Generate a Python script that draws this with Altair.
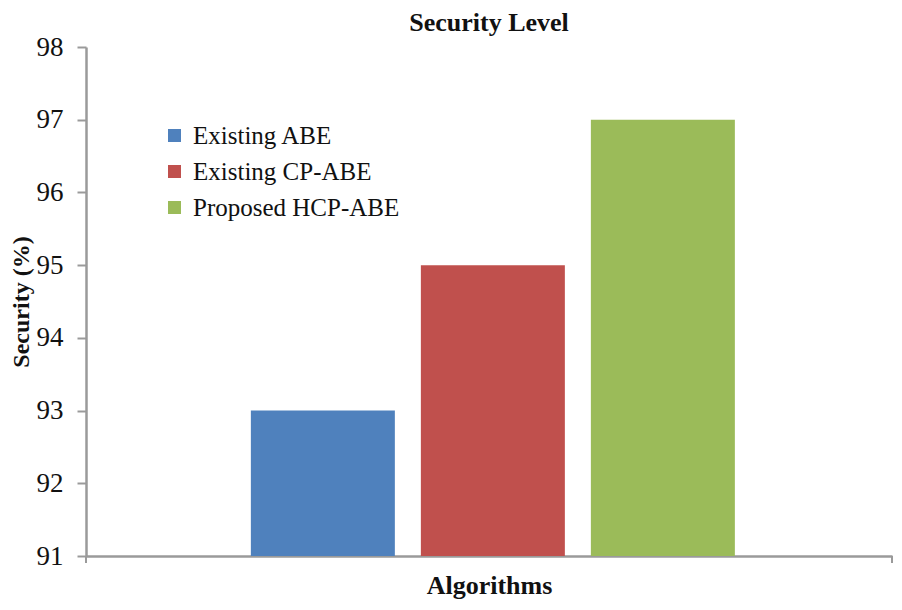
import altair as alt
import pandas as pd

algorithms = ["Existing ABE", "Existing CP-ABE", "Proposed HCP-ABE"]
security = [93, 95, 97]
colors = ["#4F81BD", "#C0504D", "#9BBB59"]
y_ticks = [91, 92, 93, 94, 95, 96, 97, 98]

df = pd.DataFrame({"Algorithm": algorithms, "Security": security})

W, H = 806, 509
FONT = "Liberation Serif"

bars = alt.Chart(df).mark_bar().encode(
    x=alt.X("Algorithm:N", sort=algorithms,
            scale=alt.Scale(paddingInner=0.153, paddingOuter=0.947, align=0.512),
            axis=alt.Axis(title="Algorithms", labels=False, ticks=False,
                          domainColor="#9a9a9a", domainWidth=2.5,
                          titleFont=FONT, titleFontSize=26, titleFontWeight="bold",
                          titleColor="#111", titlePadding=16)),
    y=alt.Y("Security:Q",
            scale=alt.Scale(domain=[91, 98], zero=False, nice=False),
            axis=alt.Axis(title="Security (%)", values=y_ticks, grid=False,
                          domainColor="#9a9a9a", domainWidth=2.5,
                          tickColor="#9a9a9a", tickWidth=2, tickSize=9,
                          labelFont=FONT, labelFontSize=27, labelColor="#111",
                          labelFontWeight="normal", labelPadding=14,
                          titleFont=FONT, titleFontSize=24, titleFontWeight="bold",
                          titleColor="#111", titlePadding=3)),
    y2=alt.datum(91),
    color=alt.Color("Algorithm:N", sort=algorithms,
                    scale=alt.Scale(domain=algorithms, range=colors),
                    legend=alt.Legend(title=None, orient="none", legendX=76, legendY=76,
                                      symbolType="square", symbolSize=170,
                                      symbolStrokeWidth=0, labelLimit=400,
                                      labelFont=FONT, labelFontSize=25,
                                      labelColor="#111", rowPadding=10,
                                      labelOffset=6)),
)

left_tick = alt.Chart(df).mark_rule(color="#9a9a9a", strokeWidth=2).encode(
    x=alt.value(0), y=alt.value(H), y2=alt.value(H + 7))
right_tick = alt.Chart(df).mark_rule(color="#9a9a9a", strokeWidth=2).encode(
    x=alt.value(W), y=alt.value(H), y2=alt.value(H + 7))

chart = alt.layer(bars, left_tick, right_tick).properties(
    width=W, height=H,
    title=alt.Title("Security Level", font=FONT, fontSize=26, fontWeight="bold",
                    color="#111", offset=-3),
    autosize=alt.AutoSizeParams(type="none"),
    padding={"left": 78, "top": 39, "right": 2, "bottom": 52},
).configure(font=FONT).configure_axisY(labelFont=FONT).configure_view(stroke=None)

chart.save("out.html", embed_options={"renderer": "svg", "actions": False})
